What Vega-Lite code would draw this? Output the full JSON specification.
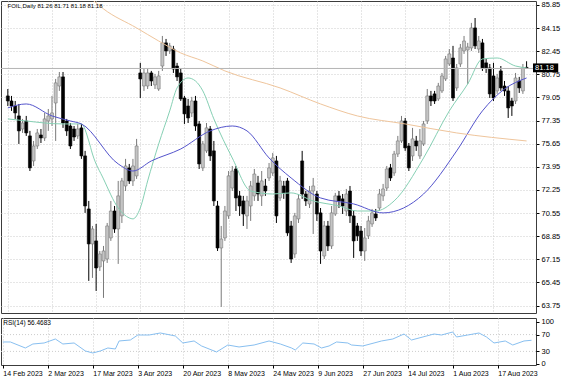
{
"$schema": "https://vega.github.io/schema/vega-lite/v6.json",
"padding": 0,
"background": "white",
"spacing": 3,
"config": {
  "view": {"stroke": "#3c3c3c", "strokeWidth": 1},
  "font": "Liberation Sans",
  "axis": {"labelFont": "Liberation Sans", "labelFontSize": 7.5, "labelColor": "#000000", "gridColor": "#cccccc", "gridDash": [1, 2], "gridWidth": 1, "tickColor": "#000000", "domain": false, "title": null, "labelOverlap": false}
},
"datasets": {
  "bars": [
    {"i":0,"o":79.16,"h":79.67,"l":78.42,"c":78.79},
    {"i":1,"o":78.79,"h":79.16,"l":78.06,"c":78.42},
    {"i":2,"o":78.42,"h":78.79,"l":77.47,"c":77.91},
    {"i":3,"o":77.69,"h":78.57,"l":75.63,"c":76.59},
    {"i":4,"o":76.73,"h":77.47,"l":76.44,"c":77.17},
    {"i":5,"o":77.32,"h":77.69,"l":76.22,"c":76.44},
    {"i":6,"o":76.22,"h":76.59,"l":73.64,"c":73.87},
    {"i":7,"o":74.38,"h":75.85,"l":74.01,"c":75.48},
    {"i":8,"o":75.48,"h":76.73,"l":75.26,"c":76.44},
    {"i":9,"o":76.29,"h":76.73,"l":75.70,"c":76.07},
    {"i":10,"o":76.07,"h":77.91,"l":75.85,"c":77.47},
    {"i":11,"o":77.32,"h":78.20,"l":76.59,"c":77.69},
    {"i":12,"o":77.47,"h":79.16,"l":76.95,"c":77.91},
    {"i":13,"o":78.64,"h":80.41,"l":75.85,"c":80.12},
    {"i":14,"o":79.89,"h":80.92,"l":79.53,"c":80.56},
    {"i":15,"o":80.56,"h":80.92,"l":76.81,"c":77.17},
    {"i":16,"o":77.32,"h":77.47,"l":76.22,"c":76.59},
    {"i":17,"o":76.95,"h":77.17,"l":75.26,"c":75.48},
    {"i":18,"o":76.73,"h":76.95,"l":75.85,"c":76.14},
    {"i":19,"o":76.22,"h":77.10,"l":76.00,"c":76.73},
    {"i":20,"o":76.81,"h":77.10,"l":74.53,"c":74.75},
    {"i":21,"o":74.75,"h":75.12,"l":70.56,"c":71.07},
    {"i":22,"o":70.85,"h":71.44,"l":65.56,"c":68.28},
    {"i":23,"o":68.28,"h":69.60,"l":65.78,"c":69.38},
    {"i":24,"o":68.50,"h":69.75,"l":64.82,"c":66.51},
    {"i":25,"o":66.59,"h":67.76,"l":66.29,"c":67.54},
    {"i":26,"o":67.03,"h":68.13,"l":64.31,"c":67.76},
    {"i":27,"o":67.17,"h":69.82,"l":66.88,"c":69.60},
    {"i":28,"o":68.72,"h":71.44,"l":68.50,"c":70.70},
    {"i":29,"o":70.70,"h":71.07,"l":69.09,"c":69.38},
    {"i":30,"o":69.38,"h":72.91,"l":66.81,"c":71.81},
    {"i":31,"o":70.34,"h":73.13,"l":69.82,"c":72.91},
    {"i":32,"o":72.54,"h":74.53,"l":72.17,"c":74.01},
    {"i":33,"o":73.87,"h":74.16,"l":72.69,"c":72.91},
    {"i":34,"o":72.91,"h":74.53,"l":72.54,"c":74.01},
    {"i":35,"o":73.28,"h":76.00,"l":73.06,"c":75.48},
    {"i":36,"o":80.85,"h":81.59,"l":79.01,"c":80.41},
    {"i":37,"o":79.89,"h":81.14,"l":79.53,"c":80.85},
    {"i":38,"o":79.89,"h":81.14,"l":79.67,"c":80.85},
    {"i":39,"o":80.85,"h":81.00,"l":79.89,"c":80.26},
    {"i":40,"o":79.97,"h":80.78,"l":79.67,"c":80.56},
    {"i":41,"o":79.67,"h":81.00,"l":79.53,"c":80.63},
    {"i":42,"o":81.36,"h":83.57,"l":81.00,"c":83.06},
    {"i":43,"o":83.06,"h":83.35,"l":82.10,"c":82.47},
    {"i":44,"o":82.47,"h":83.06,"l":82.25,"c":82.84},
    {"i":45,"o":82.61,"h":82.84,"l":80.85,"c":81.14},
    {"i":46,"o":81.36,"h":81.59,"l":80.26,"c":80.56},
    {"i":47,"o":80.85,"h":81.14,"l":78.79,"c":78.94},
    {"i":48,"o":79.01,"h":79.16,"l":77.10,"c":77.84},
    {"i":49,"o":78.42,"h":78.94,"l":77.17,"c":77.54},
    {"i":50,"o":77.91,"h":79.09,"l":77.61,"c":78.79},
    {"i":51,"o":78.79,"h":79.16,"l":76.59,"c":76.95},
    {"i":52,"o":77.10,"h":77.32,"l":73.79,"c":74.16},
    {"i":53,"o":73.87,"h":75.85,"l":73.64,"c":75.63},
    {"i":54,"o":75.12,"h":77.17,"l":74.97,"c":76.81},
    {"i":55,"o":76.73,"h":76.95,"l":74.38,"c":74.75},
    {"i":56,"o":75.12,"h":75.85,"l":71.07,"c":71.44},
    {"i":57,"o":71.07,"h":71.44,"l":67.76,"c":67.98},
    {"i":58,"o":67.98,"h":69.60,"l":63.65,"c":68.64},
    {"i":59,"o":68.72,"h":71.07,"l":68.50,"c":70.70},
    {"i":60,"o":70.34,"h":73.64,"l":70.12,"c":73.28},
    {"i":61,"o":72.39,"h":74.01,"l":72.17,"c":73.64},
    {"i":62,"o":73.79,"h":74.01,"l":70.70,"c":71.66},
    {"i":63,"o":71.81,"h":72.17,"l":70.34,"c":71.07},
    {"i":64,"o":71.44,"h":71.81,"l":69.60,"c":70.48},
    {"i":65,"o":70.34,"h":71.81,"l":69.38,"c":71.44},
    {"i":66,"o":71.07,"h":72.91,"l":69.97,"c":72.54},
    {"i":67,"o":71.81,"h":73.79,"l":71.44,"c":73.42},
    {"i":68,"o":72.76,"h":73.28,"l":71.44,"c":71.95},
    {"i":69,"o":71.81,"h":73.64,"l":71.07,"c":72.91},
    {"i":70,"o":72.54,"h":73.06,"l":71.81,"c":72.17},
    {"i":71,"o":73.13,"h":74.23,"l":72.91,"c":73.87},
    {"i":72,"o":73.50,"h":74.97,"l":73.28,"c":74.60},
    {"i":73,"o":74.38,"h":74.75,"l":69.82,"c":70.34},
    {"i":74,"o":71.66,"h":73.28,"l":71.44,"c":72.91},
    {"i":75,"o":72.54,"h":72.91,"l":71.59,"c":72.03},
    {"i":76,"o":72.91,"h":73.13,"l":68.87,"c":69.09},
    {"i":77,"o":69.60,"h":69.97,"l":66.88,"c":67.17},
    {"i":78,"o":67.54,"h":70.56,"l":67.25,"c":70.34},
    {"i":79,"o":70.12,"h":71.95,"l":69.82,"c":71.59},
    {"i":80,"o":74.38,"h":75.12,"l":71.59,"c":71.95},
    {"i":81,"o":71.95,"h":72.17,"l":71.07,"c":71.44},
    {"i":82,"o":71.22,"h":72.54,"l":70.92,"c":72.17},
    {"i":83,"o":72.17,"h":73.13,"l":69.01,"c":72.54},
    {"i":84,"o":71.95,"h":72.17,"l":69.97,"c":70.48},
    {"i":85,"o":70.56,"h":70.92,"l":66.81,"c":67.76},
    {"i":86,"o":67.39,"h":69.97,"l":67.17,"c":69.60},
    {"i":87,"o":69.60,"h":69.97,"l":67.76,"c":68.13},
    {"i":88,"o":68.13,"h":71.07,"l":67.91,"c":70.56},
    {"i":89,"o":70.48,"h":72.03,"l":70.34,"c":71.81},
    {"i":90,"o":71.81,"h":72.17,"l":70.92,"c":71.44},
    {"i":91,"o":71.59,"h":71.95,"l":70.48,"c":71.07},
    {"i":92,"o":70.70,"h":72.32,"l":70.34,"c":71.95},
    {"i":93,"o":72.17,"h":72.54,"l":69.82,"c":70.34},
    {"i":94,"o":70.34,"h":70.70,"l":67.25,"c":68.50},
    {"i":95,"o":69.60,"h":69.82,"l":68.50,"c":68.87},
    {"i":96,"o":69.23,"h":69.60,"l":67.39,"c":67.76},
    {"i":97,"o":67.76,"h":69.45,"l":67.03,"c":68.72},
    {"i":98,"o":68.87,"h":70.34,"l":68.64,"c":69.97},
    {"i":99,"o":69.75,"h":70.85,"l":69.53,"c":70.56},
    {"i":100,"o":70.48,"h":70.85,"l":69.97,"c":70.19},
    {"i":101,"o":70.92,"h":72.32,"l":70.70,"c":71.95},
    {"i":102,"o":71.81,"h":72.69,"l":71.44,"c":72.32},
    {"i":103,"o":72.39,"h":74.01,"l":72.17,"c":73.79},
    {"i":104,"o":73.87,"h":74.16,"l":72.91,"c":73.13},
    {"i":105,"o":73.50,"h":75.12,"l":73.28,"c":74.89},
    {"i":106,"o":74.89,"h":76.22,"l":74.67,"c":75.85},
    {"i":107,"o":75.85,"h":77.69,"l":75.70,"c":77.32},
    {"i":108,"o":77.32,"h":77.54,"l":75.12,"c":75.34},
    {"i":109,"o":75.48,"h":75.70,"l":73.64,"c":73.87},
    {"i":110,"o":74.75,"h":76.81,"l":74.38,"c":76.00},
    {"i":111,"o":75.85,"h":76.22,"l":75.12,"c":75.48},
    {"i":112,"o":74.75,"h":76.73,"l":74.53,"c":75.85},
    {"i":113,"o":75.63,"h":77.32,"l":75.48,"c":77.10},
    {"i":114,"o":77.32,"h":79.67,"l":77.10,"c":79.16},
    {"i":115,"o":79.16,"h":79.53,"l":78.42,"c":78.79},
    {"i":116,"o":79.31,"h":79.53,"l":78.57,"c":78.79},
    {"i":117,"o":78.94,"h":80.12,"l":78.79,"c":79.89},
    {"i":118,"o":79.53,"h":80.85,"l":79.38,"c":80.63},
    {"i":119,"o":80.41,"h":82.10,"l":80.26,"c":81.88},
    {"i":120,"o":81.51,"h":82.61,"l":81.36,"c":82.25},
    {"i":121,"o":81.95,"h":82.84,"l":78.79,"c":79.01},
    {"i":122,"o":79.75,"h":81.51,"l":79.53,"c":81.22},
    {"i":123,"o":81.51,"h":82.98,"l":81.29,"c":82.69},
    {"i":124,"o":82.47,"h":83.57,"l":82.25,"c":83.20},
    {"i":125,"o":82.54,"h":83.06,"l":80.04,"c":82.76},
    {"i":126,"o":82.69,"h":84.53,"l":82.47,"c":84.16},
    {"i":127,"o":84.16,"h":84.89,"l":82.61,"c":82.84},
    {"i":128,"o":82.61,"h":83.57,"l":82.32,"c":83.20},
    {"i":129,"o":83.06,"h":83.35,"l":81.00,"c":81.22},
    {"i":130,"o":81.59,"h":81.88,"l":80.85,"c":81.22},
    {"i":131,"o":81.22,"h":81.51,"l":79.01,"c":79.31},
    {"i":132,"o":80.63,"h":81.59,"l":78.79,"c":79.01},
    {"i":133,"o":79.53,"h":80.78,"l":79.31,"c":80.48},
    {"i":134,"o":81.00,"h":81.36,"l":79.53,"c":79.75},
    {"i":135,"o":79.89,"h":80.26,"l":79.16,"c":79.53},
    {"i":136,"o":79.53,"h":79.89,"l":77.54,"c":78.28},
    {"i":137,"o":78.79,"h":79.01,"l":77.69,"c":78.42},
    {"i":138,"o":78.79,"h":80.85,"l":78.57,"c":80.48},
    {"i":139,"o":80.26,"h":80.56,"l":79.38,"c":79.75},
    {"i":140,"o":79.53,"h":81.51,"l":79.31,"c":81.22},
    {"i":141,"o":81.26,"h":81.71,"l":81.18,"c":81.18}
  ],
  "ma": [
    {"s":"g","i":0,"v":77.47},{"s":"g","i":5,"v":77.32},{"s":"g","i":10,"v":77.17},{"s":"g","i":15,"v":77.10},{"s":"g","i":20,"v":77.10},{"s":"g","i":22,"v":75.85},{"s":"g","i":23,"v":74.89},{"s":"g","i":26,"v":73.06},{"s":"g","i":30,"v":70.92},{"s":"g","i":33,"v":70.19},{"s":"g","i":34,"v":70.12},{"s":"g","i":36,"v":70.92},{"s":"g","i":38,"v":72.91},{"s":"g","i":41,"v":75.63},{"s":"g","i":44,"v":78.06},{"s":"g","i":46,"v":79.75},{"s":"g","i":49,"v":80.48},{"s":"g","i":51,"v":80.26},{"s":"g","i":53,"v":79.53},{"s":"g","i":56,"v":77.47},{"s":"g","i":61,"v":74.60},{"s":"g","i":66,"v":72.17},{"s":"g","i":72,"v":71.95},{"s":"g","i":77,"v":72.03},{"s":"g","i":83,"v":71.44},{"s":"g","i":90,"v":71.07},{"s":"g","i":95,"v":70.70},{"s":"g","i":100,"v":70.70},{"s":"g","i":105,"v":71.44},{"s":"g","i":113,"v":74.60},{"s":"g","i":120,"v":78.06},{"s":"g","i":125,"v":80.04},{"s":"g","i":129,"v":81.88},{"s":"g","i":133,"v":81.95},{"s":"g","i":138,"v":81.36},{"s":"g","i":141,"v":81.22},
    {"s":"b","i":0,"v":78.28},{"s":"b","i":5,"v":78.57},{"s":"b","i":12,"v":77.69},{"s":"b","i":17,"v":77.32},{"s":"b","i":20,"v":77.10},{"s":"b","i":30,"v":74.16},{"s":"b","i":34,"v":73.64},{"s":"b","i":39,"v":74.38},{"s":"b","i":47,"v":75.26},{"s":"b","i":55,"v":76.59},{"s":"b","i":61,"v":76.95},{"s":"b","i":65,"v":76.59},{"s":"b","i":71,"v":74.60},{"s":"b","i":77,"v":73.13},{"s":"b","i":85,"v":71.66},{"s":"b","i":94,"v":71.22},{"s":"b","i":102,"v":70.56},{"s":"b","i":113,"v":71.95},{"s":"b","i":122,"v":75.12},{"s":"b","i":129,"v":78.06},{"s":"b","i":135,"v":79.67},{"s":"b","i":141,"v":80.48},
    {"s":"o","i":20,"v":86.90},{"s":"o","i":24,"v":86.00},{"s":"o","i":26,"v":85.56},{"s":"o","i":35,"v":84.16},{"s":"o","i":41,"v":83.20},{"s":"o","i":47,"v":82.32},{"s":"o","i":53,"v":81.73},{"s":"o","i":59,"v":81.00},{"s":"o","i":74,"v":79.75},{"s":"o","i":85,"v":78.57},{"s":"o","i":95,"v":77.69},{"s":"o","i":108,"v":77.10},{"s":"o","i":122,"v":76.44},{"s":"o","i":141,"v":75.85}
  ],
  "rsi": [
    {"i":0,"v":52.4},{"i":2,"v":52.4},{"i":6,"v":38.1},{"i":8,"v":47.6},{"i":11,"v":50.0},{"i":14,"v":59.5},{"i":16,"v":47.6},{"i":19,"v":50.0},{"i":22,"v":31.0},{"i":24,"v":26.2},{"i":26,"v":31.0},{"i":28,"v":38.1},{"i":30,"v":35.7},{"i":31,"v":54.8},{"i":34,"v":57.1},{"i":36,"v":69.0},{"i":39,"v":69.0},{"i":42,"v":73.8},{"i":46,"v":66.7},{"i":48,"v":50.0},{"i":51,"v":54.8},{"i":53,"v":42.9},{"i":57,"v":28.6},{"i":60,"v":45.2},{"i":63,"v":40.5},{"i":67,"v":45.2},{"i":71,"v":54.8},{"i":74,"v":47.6},{"i":77,"v":38.1},{"i":78,"v":33.3},{"i":80,"v":50.0},{"i":83,"v":47.6},{"i":85,"v":38.1},{"i":87,"v":42.9},{"i":89,"v":52.4},{"i":92,"v":50.0},{"i":93,"v":45.2},{"i":96,"v":42.9},{"i":99,"v":50.0},{"i":101,"v":54.8},{"i":104,"v":59.5},{"i":107,"v":71.4},{"i":109,"v":57.1},{"i":111,"v":61.9},{"i":115,"v":71.4},{"i":117,"v":69.0},{"i":120,"v":76.2},{"i":121,"v":64.3},{"i":124,"v":69.0},{"i":127,"v":73.8},{"i":129,"v":64.3},{"i":131,"v":50.0},{"i":134,"v":54.8},{"i":136,"v":45.2},{"i":139,"v":54.8},{"i":141,"v":56.47}
  ],
  "last": [{"p": 81.18, "t": "81.18", "hdr": "FOIL,Daily 81.26 81.71 81.18 81.18"}],
  "rsilabel": [{"t": "RSI(14) 56.4683"}],
  "levels": [{"lv": 30}, {"lv": 70}]
},
"vconcat": [
  {
    "width": 535,
    "height": 312,
    "layer": [
      {
        "data": {"name": "bars"},
        "mark": {"type": "rule", "strokeWidth": 1, "clip": true},
        "encoding": {
          "x": {"field": "i", "type": "quantitative", "scale": {"domain": [-0.5, 142.2], "nice": false, "zero": false},
                "axis": {"values": [0,12,24,36,48,60,72,84,96,108,120,132], "tickCount": 50, "labels": false, "ticks": false, "grid": true, "orient": "bottom"}},
          "y": {"field": "l", "type": "quantitative", "scale": {"domain": [63.2, 86.14], "nice": false, "zero": false},
                "axis": {"orient": "right", "values": [63.75,65.45,67.15,68.85,70.55,72.25,73.95,75.65,77.35,79.05,80.75,82.45,84.15,85.85], "tickCount": 50, "format": ".2f", "grid": true, "tickSize": 3, "labelPadding": 2, "labelOverlap": false}},
          "y2": {"field": "h"},
          "color": {"condition": {"test": "datum.c < datum.o", "value": "#000000"}, "value": "#7a7a7a"}
        }
      },
      {
        "data": {"name": "bars"},
        "mark": {"type": "bar", "size": 3, "clip": true, "strokeWidth": 0.6},
        "encoding": {
          "x": {"field": "i", "type": "quantitative"},
          "y": {"field": "o", "type": "quantitative"},
          "y2": {"field": "c"},
          "fill": {"condition": {"test": "datum.c < datum.o", "value": "#000000"}, "value": "#c4c4c4"},
          "stroke": {"condition": {"test": "datum.c < datum.o", "value": "#000000"}, "value": "#7a7a7a"}
        }
      },
      {
        "data": {"name": "ma"},
        "mark": {"type": "line", "strokeWidth": 1, "interpolate": "monotone", "clip": true},
        "encoding": {
          "x": {"field": "i", "type": "quantitative"},
          "y": {"field": "v", "type": "quantitative"},
          "color": {"field": "s", "type": "nominal", "scale": {"domain": ["g", "b", "o"], "range": ["#86d0b4", "#5454cc", "#efc59c"]}, "legend": null},
          "detail": {"field": "s"}
        }
      },
      {
        "data": {"name": "last"},
        "mark": {"type": "rule", "color": "#b4b4b4", "strokeWidth": 1},
        "encoding": {"y": {"field": "p", "type": "quantitative"}}
      },
      {
        "data": {"name": "last"},
        "mark": {"type": "rect", "color": "#000000", "clip": false},
        "encoding": {
          "x": {"datum": 142.75, "type": "quantitative"},
          "x2": {"datum": 149.6},
          "y": {"datum": 81.55, "type": "quantitative"},
          "y2": {"datum": 80.9}
        }
      },
      {
        "data": {"name": "last"},
        "mark": {"type": "text", "color": "#ffffff", "align": "left", "baseline": "middle", "fontSize": 7.5, "font": "Liberation Sans"},
        "encoding": {
          "x": {"datum": 143.3, "type": "quantitative"},
          "y": {"datum": 81.22, "type": "quantitative"},
          "text": {"field": "t"}
        }
      },
      {
        "data": {"name": "last"},
        "mark": {"type": "text", "color": "#000000", "align": "left", "baseline": "middle", "fontSize": 6, "font": "Liberation Sans"},
        "encoding": {
          "x": {"datum": -0.1, "type": "quantitative"},
          "y": {"datum": 85.75, "type": "quantitative"},
          "text": {"field": "hdr"}
        }
      }
    ]
  },
  {
    "width": 535,
    "height": 47,
    "layer": [
      {
        "data": {"name": "levels"},
        "mark": {"type": "rule", "color": "#cccccc", "strokeDash": [1, 2]},
        "encoding": {"y": {"field": "lv", "type": "quantitative", "scale": {"domain": [-2.4, 109.5], "nice": false, "zero": false},
                "axis": {"orient": "right", "values": [0, 30, 70, 100], "tickCount": 50, "grid": false, "tickSize": 3, "labelPadding": 2, "labelOverlap": false}}}
      },
      {
        "data": {"name": "rsi"},
        "mark": {"type": "line", "color": "#88bff0", "strokeWidth": 1},
        "encoding": {
          "x": {"field": "i", "type": "quantitative", "scale": {"domain": [-0.5, 142.2], "nice": false, "zero": false},
                "axis": {"values": [0,12,24,36,48,60,72,84,96,108,120,132], "tickCount": 50, "grid": true, "tickSize": 3, "labelAlign": "left", "labelPadding": 1, "labelOverlap": false, "labelBound": false, "labelFlush": false, "labelFontSize": 7,
                         "labelExpr": "['14 Feb 2023','2 Mar 2023','17 Mar 2023','3 Apr 2023','20 Apr 2023','8 May 2023','24 May 2023','9 Jun 2023','27 Jun 2023','14 Jul 2023','1 Aug 2023','17 Aug 2023'][round(datum.value/12)]"}},
          "y": {"field": "v", "type": "quantitative",
                "axis": {"orient": "right", "values": [0, 30, 70, 100], "tickCount": 50, "grid": false, "tickSize": 3, "labelPadding": 2, "labelOverlap": false}}
        }
      },
      {
        "data": {"name": "rsilabel"},
        "mark": {"type": "text", "color": "#000000", "align": "left", "baseline": "middle", "fontSize": 6.5, "font": "Liberation Sans"},
        "encoding": {
          "x": {"datum": 0.1, "type": "quantitative"},
          "y": {"datum": 97.6, "type": "quantitative"},
          "text": {"field": "t"}
        }
      }
    ]
  }
]
}
